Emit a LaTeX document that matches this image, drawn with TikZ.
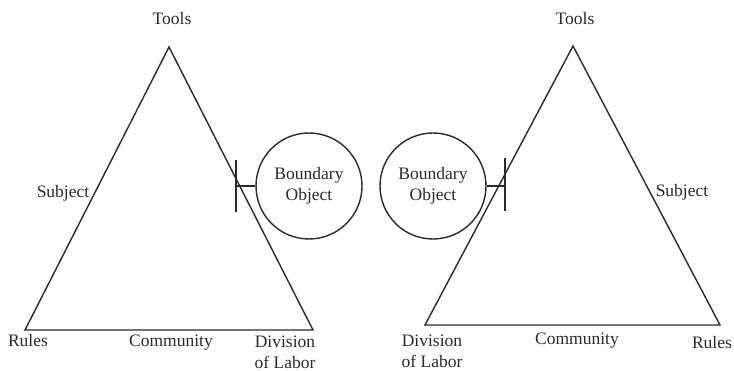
\documentclass[tikz,border=0pt]{standalone}
\usepackage{fontspec}
\setmainfont{Liberation Serif}
\usepackage{tikz}
\definecolor{inkgray}{HTML}{2A2A2A}
\tikzset{
  edge/.style={draw=inkgray, line width=1.4pt, line join=miter},
  lbl/.style={text=inkgray, inner sep=0pt, font=\fontsize{17.5}{21}\selectfont, align=center},
  bobj/.style={circle, draw=inkgray, line width=1.4pt, minimum size=106pt, inner sep=0pt, text=inkgray, font=\fontsize{17.5}{21}\selectfont, align=center}
}
\begin{document}
\begin{tikzpicture}[x=1pt,y=-1pt]
                \useasboundingbox (0,0) rectangle (734,371);

                % Left triangle
                \coordinate (LA) at (169,47);
                \coordinate (LB) at (25,330);
                \coordinate (LC) at (313,330);
                \draw[edge] (LA) -- (LB) -- (LC) -- cycle;

                \node[lbl, anchor=base] (lTools) at (172,25) {Tools};
                \node[lbl, anchor=base] (lSubject) at (63,198) {Subject};
                \node[lbl, anchor=base] (lRules) at (28,347) {Rules};
                \node[lbl, anchor=base] (lCommunity) at (171,347) {Community};
                \node[lbl] (lDivision) at (285,352) {Division\\of Labor};

                % Left boundary object
                \node[bobj] (lBO) at (309,186) {Boundary\\Object};
                \coordinate (lBarTop) at (236,160);
                \coordinate (lBarBot) at (236,212);
                \coordinate (lBarMid) at (236,186);
                \draw[edge] (lBarTop) -- (lBarBot);
                \draw[edge] (lBarMid) -- (lBO.west);

                % Right triangle
                \coordinate (RA) at (573,46);
                \coordinate (RB) at (425,325);
                \coordinate (RC) at (720,325);
                \draw[edge] (RA) -- (RB) -- (RC) -- cycle;

                \node[lbl, anchor=base] (rTools) at (575,25) {Tools};
                \node[lbl, anchor=base] (rSubject) at (682,197) {Subject};
                \node[lbl, anchor=base] (rCommunity) at (577,345) {Community};
                \node[lbl, anchor=base] (rRules) at (712,349) {Rules};
                \node[lbl] (rDivision) at (432,351) {Division\\of Labor};

                % Right boundary object
                \node[bobj] (rBO) at (433,186) {Boundary\\Object};
                \coordinate (rBarTop) at (505,158);
                \coordinate (rBarBot) at (505,211);
                \coordinate (rBarMid) at (505,186);
                \draw[edge] (rBarTop) -- (rBarBot);
                \draw[edge] (rBO.east) -- (rBarMid);
            \end{tikzpicture}
\end{document}
